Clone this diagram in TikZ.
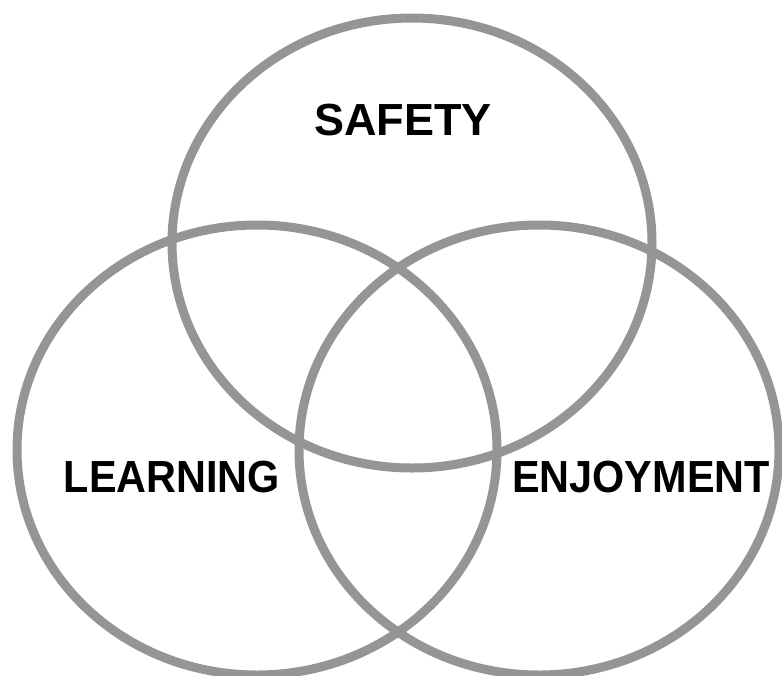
\documentclass[tikz,border=0pt]{standalone}
\usepackage{fontspec}
\setmainfont{Liberation Sans}
\definecolor{ringgray}{HTML}{959595}
\begin{document}
\begin{tikzpicture}[x=1pt,y=-1pt,
  ring/.style={draw=ringgray,line width=9pt},
  lbl/.style={font=\fontsize{45}{50}\selectfont\bfseries,text=black,inner sep=0pt},
  narrow/.style={xscale=0.92}]
\useasboundingbox (0,0) rectangle (782,675);
\begin{scope}
\clip (0,0) rectangle (782,675);
\draw[ring] (412,243) ellipse [x radius=240, y radius=225];
\draw[ring] (257,450) ellipse [x radius=240, y radius=225];
\draw[ring] (539,450) ellipse [x radius=240, y radius=225];
\end{scope}
\node[lbl] (safety) at (403,120) {SAFETY};
\node[lbl,narrow] (learning) at (172,477) {LEARNING};
\node[lbl,narrow] (enjoyment) at (641,477) {ENJOYMENT};
\end{tikzpicture}
\end{document}
